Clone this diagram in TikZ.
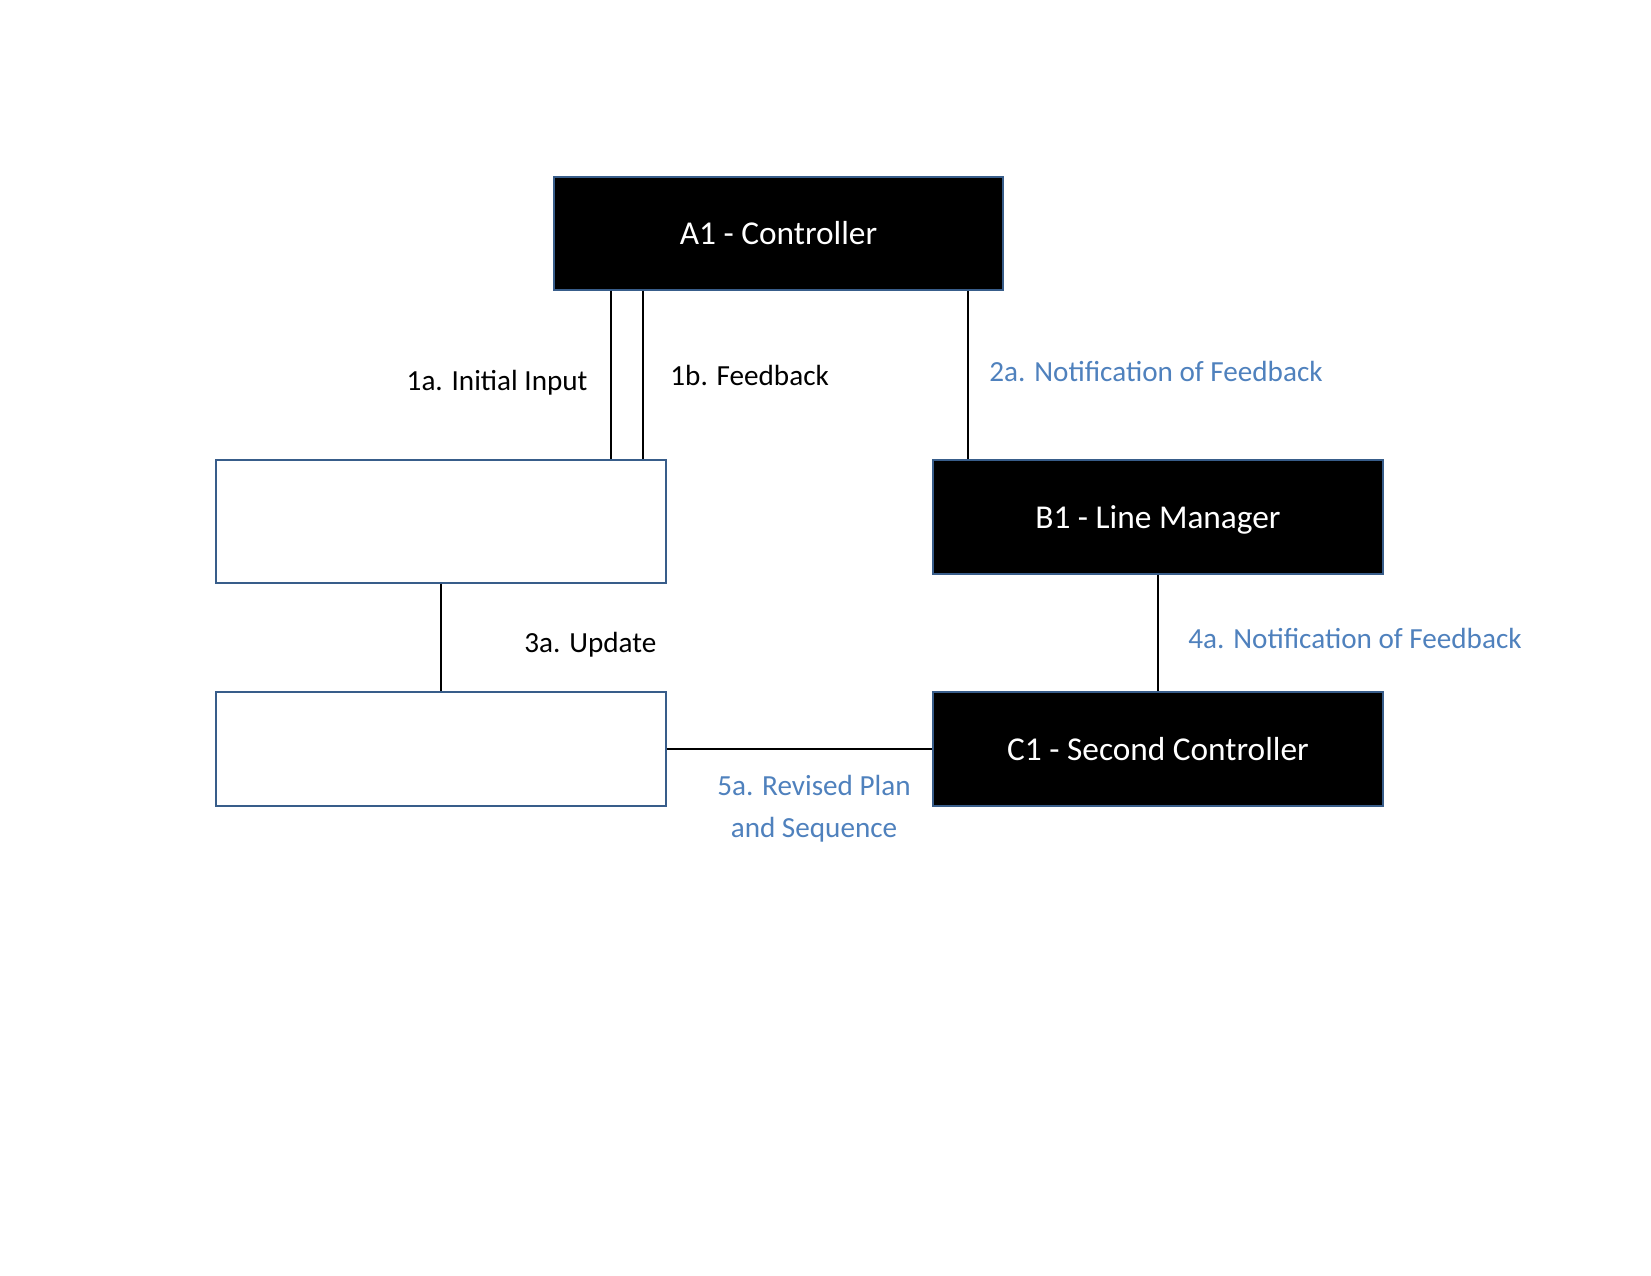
\documentclass[tikz,border=0pt]{standalone}
\usepackage{fontspec}
\setmainfont{Carlito}
\usepackage{tikz}
\definecolor{boxline}{RGB}{56,93,138}
\definecolor{notecol}{RGB}{79,129,189}

\begin{document}
\begin{tikzpicture}[x=0.48pt, y=-0.48pt,
        darkbox/.style={draw=boxline, fill=black, text=white, line width=0.6pt, minimum width=450*0.48pt, minimum height=114*0.48pt, text height=11pt, text depth=0pt, font=\fontsize{16}{19}\selectfont},
        emptybox/.style={draw=boxline, fill=white, line width=0.6pt, minimum width=450*0.48pt},
        lbl/.style={font=\fontsize{14}{20.2}\selectfont, inner sep=0pt},
        link/.style={line width=0.7pt}]
        \useasboundingbox (0,0) rectangle (1651,1275);

        \node[darkbox, minimum width=449*0.48pt, minimum height=113*0.48pt] (A1) at (778.5,233.5) {A1 - Controller};
        \node[emptybox, minimum height=123*0.48pt] (W1) at (441,521.5) {};
        \node[emptybox, minimum height=114*0.48pt] (W2) at (441,749) {};
        \node[darkbox] (B1) at (1158,517) {B1 - Line Manager};
        \node[darkbox] (C1) at (1158,749) {C1 - Second Controller};

        \coordinate (inA) at (611,0);
        \coordinate (inB) at (643,0);
        \coordinate (noteA) at (968,0);

        \draw[link] (A1.south -| inA) -- (W1.north -| inA);
        \draw[link] (A1.south -| inB) -- (W1.north -| inB);
        \draw[link] (A1.south -| noteA) -- (B1.north -| noteA);
        \draw[link] (W1.south) -- (W2.north);
        \draw[link] (B1.south) -- (C1.north);
        \draw[link] (W2.east) -- (C1.west);

        \node[lbl, anchor=base east] (t1a) at (588,390) {1a. Initial Input};
        \node[lbl, anchor=base west] (t1b) at (670,385) {1b. Feedback};
        \node[lbl, anchor=base west, text=notecol] (t2a) at (989,381) {2a. Notification of Feedback};
        \node[lbl, anchor=base west, text=notecol] (t4a) at (1188,648) {4a. Notification of Feedback};
        \node[lbl, anchor=base west] (t3a) at (524,652) {3a. Update};
        \node[lbl, align=center, text=notecol] (t5a) at (814,809) {5a. Revised Plan\\and Sequence};
\end{tikzpicture}
\end{document}
